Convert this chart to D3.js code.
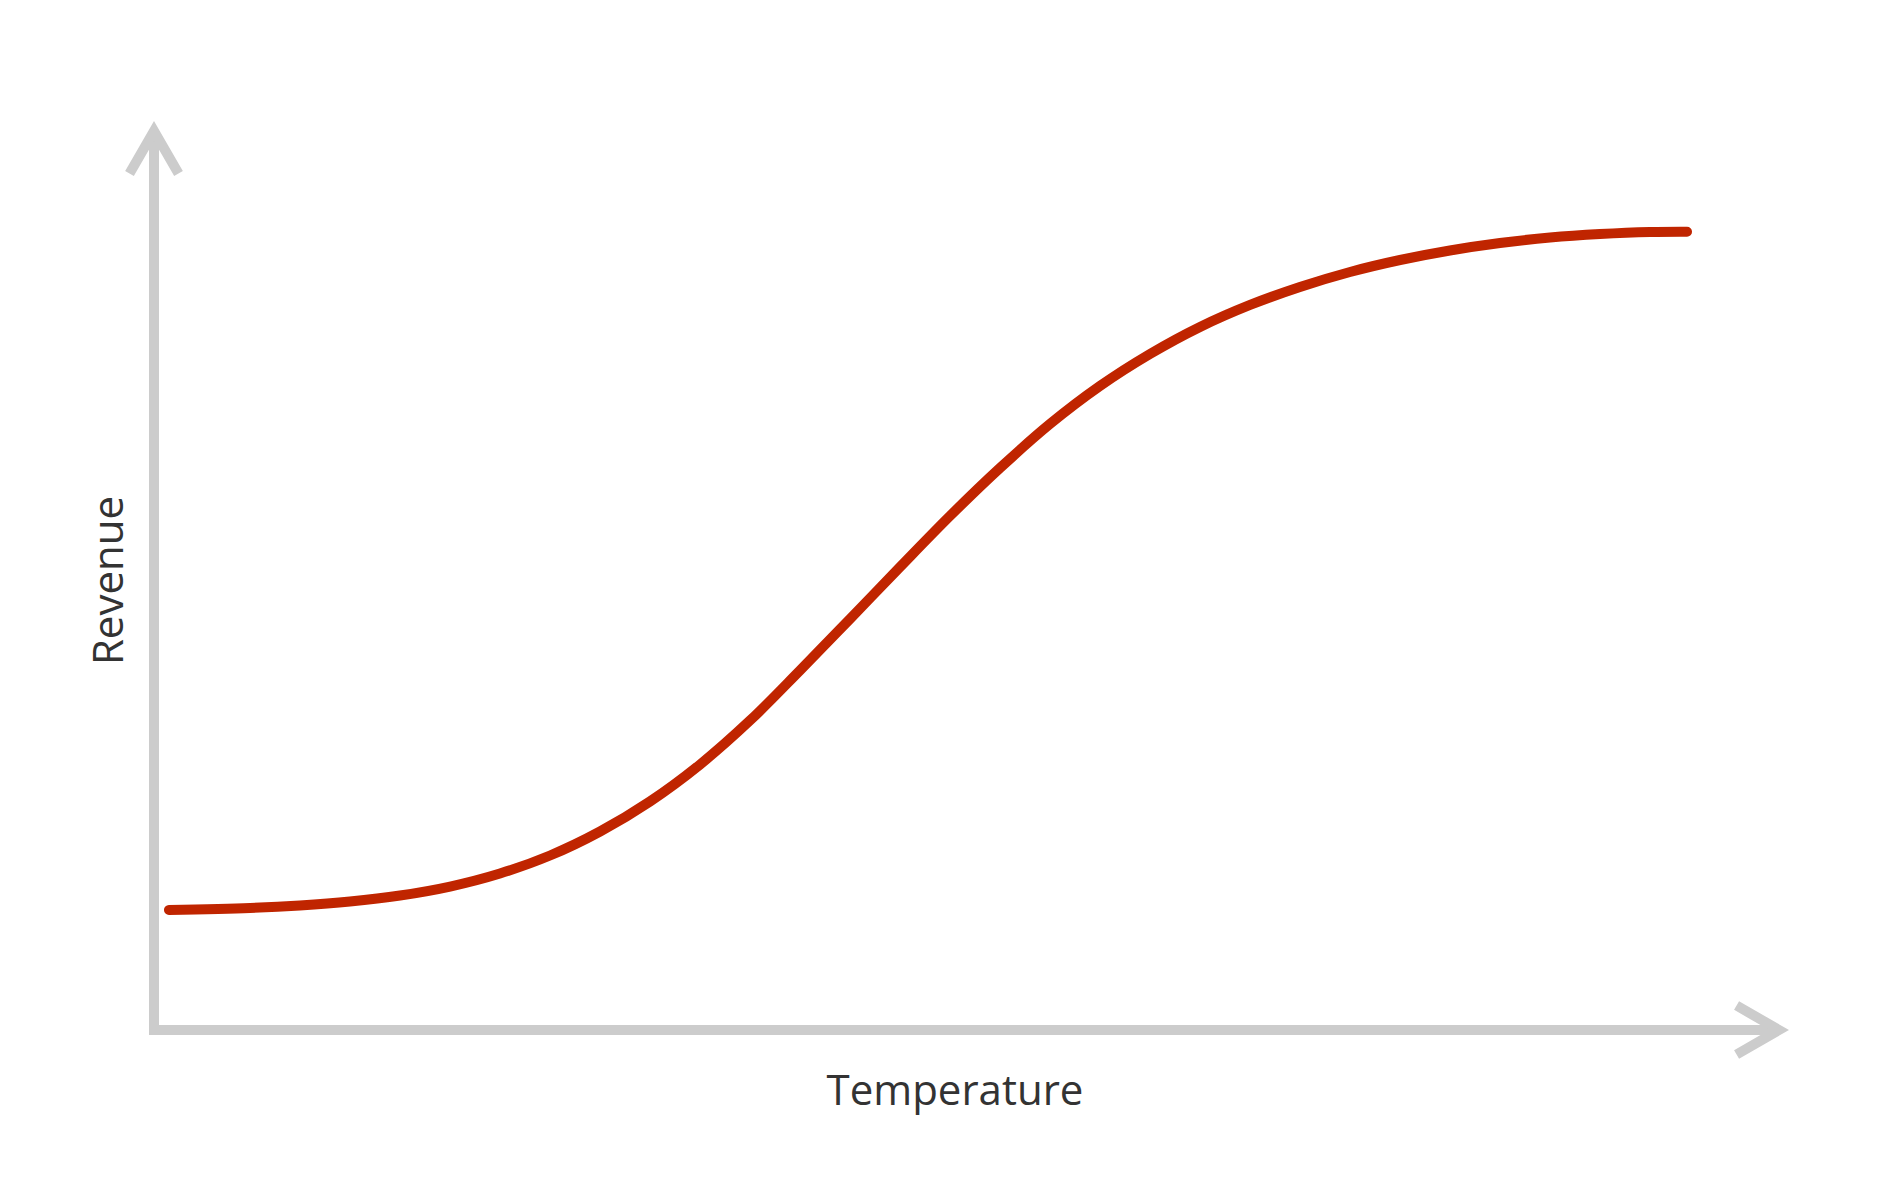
<!DOCTYPE html>
<html>
<head>
<meta charset="utf-8">
<script src="https://cdn.jsdelivr.net/npm/d3@7"></script>
<style>
  html, body { margin: 0; padding: 0; background: #ffffff; }
  svg { display: block; }
</style>
</head>
<body>
<svg id="chart" width="1900" height="1179"></svg>
<script>
// ---- Data ----
const temperature = [0.92, 5.91, 8.98, 12.06, 15.14, 18.22, 21.29, 24.37, 27.45, 30.52, 33.60, 36.68, 39.75, 42.83, 45.91, 48.98, 52.06, 55.14, 58.22, 61.29, 64.37, 67.45, 70.52, 73.60, 76.68, 79.75, 82.83, 85.91, 88.98, 92.06, 94.34];
const revenue     = [13.35, 13.57, 13.85, 14.29, 14.96, 15.96, 17.41, 19.41, 22.08, 25.42, 29.53, 34.43, 39.99, 45.72, 51.50, 57.17, 62.51, 67.41, 71.64, 75.19, 78.20, 80.65, 82.65, 84.32, 85.65, 86.71, 87.54, 88.15, 88.54, 88.77, 88.80];
const xLabel = "Temperature";
const yLabel = "Revenue";

const W = 1900, H = 1179;
const margin = { left: 154, right: 121, top: 131, bottom: 149 };
const svg = d3.select("#chart");

const x = d3.scaleLinear().domain([0, 100]).range([margin.left, W - margin.right]);
const y = d3.scaleLinear().domain([0, 100]).range([H - margin.bottom, margin.top]);

const axisColor = "#cccccc";
const axisWidth = 10;

const x0 = x(0), x1 = x(100), y0 = y(0), y1 = y(100);

// axes
svg.append("path")
  .attr("d", `M${x0},${y1} V${y0} H${x1}`)
  .attr("fill", "none")
  .attr("stroke", axisColor)
  .attr("stroke-width", axisWidth)
  .attr("stroke-linejoin", "miter")
  .attr("stroke-linecap", "butt");

// arrow heads (60° chevrons)
const armL = 49;
const dx = armL * Math.sin(Math.PI / 6), dy = armL * Math.cos(Math.PI / 6);
svg.append("path")
  .attr("d", `M${x0 - dx},${y1 + dy} L${x0},${y1} L${x0 + dx},${y1 + dy}`)
  .attr("fill", "none").attr("stroke", axisColor).attr("stroke-width", axisWidth)
  .attr("stroke-linejoin", "miter").attr("stroke-miterlimit", 10);
svg.append("path")
  .attr("d", `M${x1 - dy},${y0 - dx} L${x1},${y0} L${x1 - dy},${y0 + dx}`)
  .attr("fill", "none").attr("stroke", axisColor).attr("stroke-width", axisWidth)
  .attr("stroke-linejoin", "miter").attr("stroke-miterlimit", 10);

// curve
const data = temperature.map((t, i) => ({ t, r: revenue[i] }));
const line = d3.line()
  .x(d => x(d.t))
  .y(d => y(d.r))
  .curve(d3.curveCatmullRom.alpha(0.5));

svg.append("path")
  .datum(data)
  .attr("d", line)
  .attr("fill", "none")
  .attr("stroke", "#c02500")
  .attr("stroke-width", 10)
  .attr("stroke-linecap", "round")
  .attr("stroke-linejoin", "round");

// labels
svg.append("text")
  .attr("x", 955)
  .attr("y", y0 + 75)
  .attr("text-anchor", "middle")
  .attr("font-family", "'Open Sans', sans-serif")
  .attr("font-size", 42)
  .attr("fill", "#333333")
  .text(xLabel);

svg.append("text")
  .attr("transform", `translate(${x0 - 31},${(y0 + y1) / 2}) rotate(-90)`)
  .attr("text-anchor", "middle")
  .attr("font-family", "'Open Sans', sans-serif")
  .attr("font-size", 42)
  .attr("fill", "#333333")
  .text(yLabel);
</script>
</body>
</html>
